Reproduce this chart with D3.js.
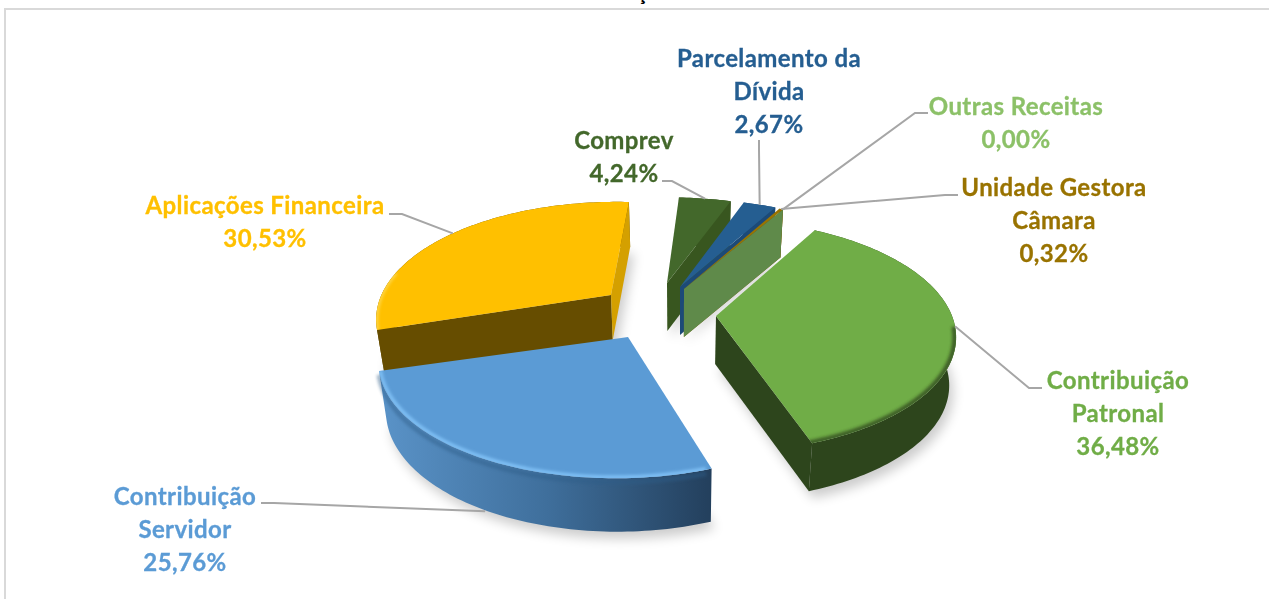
<!DOCTYPE html>
<html><head><meta charset="utf-8">
<script src="https://cdnjs.cloudflare.com/ajax/libs/d3/7.8.5/d3.min.js"></script>
<style>html,body{margin:0;padding:0;background:#fff;overflow:hidden}svg{display:block}text{font-family:Lato,"Open Sans",sans-serif;font-weight:700}</style>
</head><body><svg id="c" width="1269" height="599"></svg>
<script>
// ---- data ----
const categories = ["Contribuição Patronal","Contribuição Servidor","Aplicações Financeira","Comprev","Parcelamento da Dívida","Unidade Gestora Câmara","Outras Receitas"];
const values = [36.48,25.76,30.53,4.24,2.67,0.32,0.00];
const valueLabels = ["36,48%","25,76%","30,53%","4,24%","2,67%","0,32%","0,00%"];
const labelLines = [["Contribuição","Patronal"],["Contribuição","Servidor"],["Aplicações Financeira"],["Comprev"],["Parcelamento da","Dívida"],["Unidade Gestora","Câmara"],["Outras Receitas"]];
const colors = ["#70ad47","#5b9bd5","#ffc000","#43682b","#255e91","#997300","#8cc168"];

// ---- layout / style ----
const W=1269,H=599;
const ROT=29.5*Math.PI/180, R=236, KR=113;
const persp=[.17,.2,.2,.2,.2,.2,.2];
const anchors=[[716,316],[620,337],[617,296],[667,283],[680,287],[684,289],[684,289]];
const apexes=[[716,316],[628,337],[611,295],[667,283],[680,287],[684,289],[684,289]];
const ySquash=[1,1,1,.91,.94,.95,.95];
const shear=[.03,-.03,0,0,0,0,0];
const depthBase=[48,48,45,48,48,48,48];
const depthFront=[0,5,0,0,0,0,0];
const wallOuter=["#2d451c","url(#servWall)","#664d00","#38561f","#1c4a78","#7a5c00","#5f8a4a"];
const wallStart=[null,null,"#664d00",null,null,null,null];
const wallEnd=["#2d451c",null,"#d4a000","#38561f","#1c4a78","#7a5c00","#5f8a4a"];
const paintOrder=[2,3,4,5,6,0,1];
const labelCx=[1118,185,265,624,769,1054,1016];
const labelY=[389,505,214,149,67,196,115];
const labelElbow=[[[1042,388],[1029,388]],[[261,503],[274,503]],[[389,214],[402,214]],[[662,181],[672,181]],[[759,140],[759,150]],[[958,195],[945,195]],[[928,113],[915,113]]];
const leaderDrop=[0,52,0,0,0,0,0];

const svg=d3.select("#c");
const defs=svg.append("defs");
defs.append("filter").attr("id","bl6").attr("x","-20%").attr("y","-20%").attr("width","140%").attr("height","140%").append("feGaussianBlur").attr("stdDeviation",6);
defs.append("filter").attr("id","bl2").attr("x","-10%").attr("y","-10%").attr("width","120%").attr("height","120%").append("feGaussianBlur").attr("stdDeviation",1.8);
const g=defs.append("linearGradient").attr("id","servWall").attr("gradientUnits","userSpaceOnUse").attr("x1",380).attr("x2",713).attr("y1",0).attr("y2",0);
g.append("stop").attr("offset",0).attr("stop-color","#5a93c8");
g.append("stop").attr("offset",.5).attr("stop-color","#3f6f9c");
g.append("stop").attr("offset",1).attr("stop-color","#233f5c");

// frame
svg.append("rect").attr("x",5).attr("y",9).attr("width",W+10).attr("height",H+10).attr("fill","#fff").attr("stroke","#d9d9d9").attr("stroke-width",2);
// clipped title remnant
svg.append("text").attr("x",642).attr("y",0).attr("text-anchor","middle").attr("font-size",21).attr("fill","#000").text("ç");

// projection of a point on the (exploded) disc; phi clockwise from north
const proj=(i,phi,r=1)=>{
  const s=Math.sin(phi),c=Math.cos(phi),f=1/(1+persp[i]*c*r);
  const dx=R*r*s*f, dy=-KR*r*c*f*ySquash[i];
  return [anchors[i][0]+dx+shear[i]*dy, anchors[i][1]+dy];
};
const down=(i,p)=>{
  const dy=p[1]-anchors[i][1];
  return [p[0]-(p[0]-680)*.025, p[1]+depthBase[i]+depthFront[i]*dy/130];
};
const pieGen=d3.pie().sort(null).value(d=>d).startAngle(ROT).endAngle(ROT+2*Math.PI);
const arcs=pieGen(values);
const line=d3.line();
const rimPts=(i,a0,a1,r=1)=>{
  const n=Math.max(2,Math.ceil(Math.abs(a1-a0)/.02));
  return d3.range(n+1).map(k=>proj(i,a0+(a1-a0)*k/n,r));
};

// shadows
const shadow=svg.append("g").attr("opacity",.2);
paintOrder.forEach(i=>{
  const a=arcs[i];
  const pts=[apexes[i],...rimPts(i,a.startAngle,a.endAngle)].map(p=>down(i,p));
  shadow.append("path").attr("d",line(pts)+"Z").attr("fill","#000").attr("filter","url(#bl6)").attr("transform","translate(4,7)");
});

const layer=svg.append("g");
paintOrder.forEach(i=>{
  const a=arcs[i], gi=layer.append("g").attr("class","slice").datum(a);
  const rim=rimPts(i,a.startAngle,a.endAngle);
  const A=apexes[i], B=down(i,A);
  // outer wall
  if(a.endAngle>a.startAngle){
    gi.append("path").attr("d",line([...rim,...rim.map(p=>down(i,p)).reverse()])+"Z").attr("fill",wallOuter[i]);
  }
  // radial cut walls
  [[wallStart[i],a.startAngle],[wallEnd[i],a.endAngle]].forEach(([col,ang])=>{
    if(!col) return;
    const P=proj(i,ang);
    gi.append("path").attr("d",line([A,P,down(i,P),B])+"Z").attr("fill",col);
  });
  // top face
  if(a.endAngle>a.startAngle){
    const d=line([A,...rim])+"Z";
    const cid="top"+i;
    defs.append("clipPath").attr("id",cid).append("path").attr("d",d);
    gi.append("path").attr("d",d).attr("fill",colors[i]);
    // bevels
    if(i===0){
      gi.append("g").attr("clip-path",`url(#${cid})`).append("path")
        .attr("d",line(rimPts(i,a.startAngle+1.15,a.endAngle+.1,.995))).attr("fill","none")
        .attr("stroke","#2d451c").attr("stroke-width",5).attr("opacity",.75).attr("filter","url(#bl2)");
    }
    if(i===1){
      gi.append("path").attr("d",line(rimPts(i,a.startAngle+.02,a.endAngle,1).map(p=>[p[0],p[1]+4])))
        .attr("fill","none").attr("stroke","#2f5d88").attr("stroke-width",5).attr("opacity",.45).attr("filter","url(#bl2)");
      gi.append("g").attr("clip-path",`url(#${cid})`).append("path")
        .attr("d",line(rimPts(i,a.startAngle+.02,a.endAngle,.995))).attr("fill","none")
        .attr("stroke","#7fc0f5").attr("stroke-width",4).attr("filter","url(#bl2)");
    }
    if(i===2){
      gi.append("g").attr("clip-path",`url(#${cid})`).append("path")
        .attr("d",line(rimPts(i,a.startAngle,a.startAngle+.5,.998))).attr("fill","none")
        .attr("stroke","#ffd84d").attr("stroke-width",3).attr("filter","url(#bl2)");
    }
  }
});

// leader lines
const leaders=svg.append("g").attr("fill","none").attr("stroke","#a6a6a6").attr("stroke-width",2);
arcs.forEach((a,i)=>{
  const mid=(a.startAngle+a.endAngle)/2;
  const end=proj(i,mid);
  end[1]+=leaderDrop[i];
  leaders.append("path").attr("d",line([...labelElbow[i],end]));
});

// labels
const labels=svg.append("g").attr("text-anchor","middle").attr("font-size",24).attr("letter-spacing",.4);
const LH=32.8;
categories.forEach((c,i)=>{
  const t=labels.append("text").attr("fill",colors[i]).attr("stroke",colors[i]).attr("stroke-width",.3);
  [...labelLines[i],valueLabels[i]].forEach((s,k)=>{
    t.append("tspan").attr("x",labelCx[i]).attr("y",labelY[i]+k*LH).text(s);
  });
});
</script></body></html>
